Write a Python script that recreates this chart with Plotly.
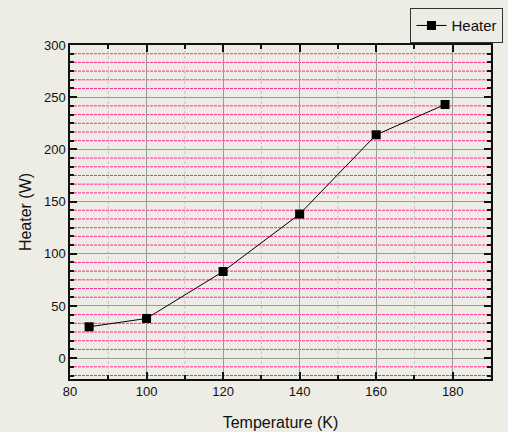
import plotly.graph_objects as go

# Heater power versus temperature
temperature_k = [85, 100, 120, 140, 160, 178]
heater_w = [30, 38, 83, 138, 214, 243]
series_name = "Heater"

x_title = "Temperature (K)"
y_title = "Heater (W)"

FONT = "Liberation Sans, Arial, sans-serif"
BG = "#edece5"
INK = "#111111"

X_RANGE = [80, 190]
Y_RANGE = [-20, 300]

# Labelled divisions and the finer divisions between them
X_MAJOR = 20
Y_MAJOR, Y_MINOR_DIV = 50, 6
x_minor_vals = list(range(90, 191, X_MAJOR))
y_minor_vals = [
    k * Y_MAJOR / Y_MINOR_DIV
    for k in range(-2, 6 * Y_MINOR_DIV)
    if k % Y_MINOR_DIV != 0
]

fig = go.Figure()
fig.add_trace(go.Scatter(
    x=temperature_k,
    y=heater_w,
    mode="lines+markers",
    name=series_name,
    line=dict(color="black", width=1),
    marker=dict(symbol="square", size=9, color="black"),
))

# Fine grid: pink dotted rules across, faint dashed rules down
fine_grid = []
for v in y_minor_vals:
    fine_grid.append(dict(
        type="line", layer="below",
        xref="x domain", x0=0, x1=1, yref="y", y0=v, y1=v,
        line=dict(color="#ff2a90", width=1, dash="3px,1px"),
    ))
for v in x_minor_vals:
    fine_grid.append(dict(
        type="line", layer="below",
        xref="x", x0=v, x1=v, yref="y domain", y0=0, y1=1,
        line=dict(color="#c6c6c0", width=1, dash="3px,2px"),
    ))

frame = dict(
    showline=True,
    linecolor=INK,
    linewidth=1.5,
    mirror="allticks",
    ticks="inside",
    ticklen=7,
    tickwidth=1.5,
    tickcolor=INK,
    showgrid=True,
    gridcolor="#9a9a9a",
    gridwidth=1,
    zeroline=False,
    tickfont=dict(family=FONT, size=13, color=INK),
)

fig.update_layout(
    width=508,
    height=432,
    margin=dict(l=70, r=17, t=45, b=53, autoexpand=False),
    paper_bgcolor=BG,
    plot_bgcolor=BG,
    font=dict(family=FONT, size=13, color=INK),
    showlegend=True,
    shapes=fine_grid,
    legend=dict(
        xref="container", yref="container",
        x=0.808, y=0.981, xanchor="left", yanchor="top",
        bgcolor=BG,
        bordercolor="#333333",
        borderwidth=1,
        font=dict(family=FONT, size=15, color=INK),
    ),
    xaxis=dict(
        range=X_RANGE, tick0=X_RANGE[0], dtick=X_MAJOR,
        title=dict(text=x_title, font=dict(size=16), standoff=18),
        minor=dict(
            tickmode="array", tickvals=x_minor_vals,
            ticks="inside", ticklen=4, tickwidth=1.5, tickcolor=INK,
            showgrid=False,
        ),
        **frame,
    ),
    yaxis=dict(
        range=Y_RANGE, tick0=0, dtick=Y_MAJOR,
        title=dict(text=y_title, font=dict(size=16), standoff=8),
        minor=dict(
            tickmode="array", tickvals=y_minor_vals,
            ticks="inside", ticklen=4, tickwidth=1.5, tickcolor=INK,
            showgrid=False,
        ),
        **frame,
    ),
)

fig.write_html("out.html")
